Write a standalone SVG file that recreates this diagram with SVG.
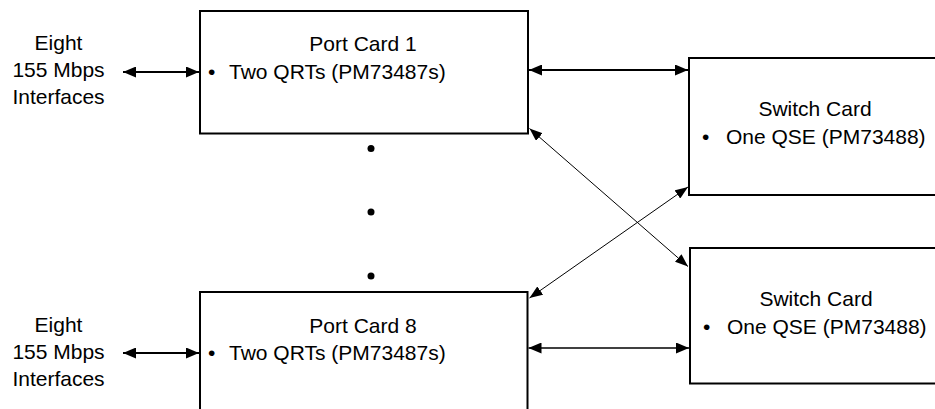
<svg xmlns="http://www.w3.org/2000/svg" width="935" height="409" viewBox="0 0 935 409">
  <defs>
    <marker id="ah" viewBox="0 0 13 11" refX="13" refY="5.5" markerWidth="13" markerHeight="11" markerUnits="userSpaceOnUse" orient="auto-start-reverse">
      <path d="M0,0 L13,5.5 L0,11 z" fill="#000"/>
    </marker>
    <marker id="ahs" viewBox="0 0 13 10" refX="13" refY="5" markerWidth="13" markerHeight="10" markerUnits="userSpaceOnUse" orient="auto-start-reverse">
      <path d="M0,0 L13,5 L0,10 z" fill="#000"/>
    </marker>
  </defs>
  <style>
    text { font-family: "Liberation Sans", Arial, sans-serif; font-size: 21px; fill: #000; }
    .box { fill: #fff; stroke: #000; stroke-width: 2; }
    .c { text-anchor: middle; }
    .conn { stroke: #000; fill: none; }
  </style>
  <rect width="935" height="409" fill="#fff"/>

  <g id="label-top">
    <text class="c" x="58.5" y="50">Eight</text>
    <text class="c" x="58.5" y="77">155 Mbps</text>
    <text class="c" x="58.5" y="104">Interfaces</text>
  </g>
  <g id="label-bottom">
    <text class="c" x="58.5" y="332">Eight</text>
    <text class="c" x="58.5" y="359">155 Mbps</text>
    <text class="c" x="58.5" y="386">Interfaces</text>
  </g>

  <g id="port-card-1">
    <rect class="box" x="200" y="11" width="328" height="122.5"/>
    <text class="c" x="363" y="51">Port Card 1</text>
    <text y="79"><tspan x="208">•</tspan><tspan x="229">Two QRTs (PM73487s)</tspan></text>
  </g>

  <g id="port-card-8">
    <rect class="box" x="200" y="292" width="327.5" height="140"/>
    <text class="c" x="363" y="333">Port Card 8</text>
    <text y="360"><tspan x="208">•</tspan><tspan x="229">Two QRTs (PM73487s)</tspan></text>
  </g>

  <g id="switch-card-1">
    <rect class="box" x="689" y="58" width="253" height="137"/>
    <text class="c" x="815" y="116">Switch Card</text>
    <text y="144"><tspan x="702">•</tspan><tspan x="726">One QSE (PM73488)</tspan></text>
  </g>

  <g id="switch-card-2">
    <rect class="box" x="690" y="248" width="253" height="135.5"/>
    <text class="c" x="816" y="306">Switch Card</text>
    <text y="334"><tspan x="703">•</tspan><tspan x="727">One QSE (PM73488)</tspan></text>
  </g>

  <g id="ellipsis">
    <circle cx="371" cy="148.5" r="3.5"/>
    <circle cx="371" cy="212" r="3.5"/>
    <circle cx="371" cy="276" r="3.5"/>
  </g>

  <g id="connectors">
    <line class="conn" x1="123" y1="72" x2="199" y2="72" stroke-width="2" marker-start="url(#ah)" marker-end="url(#ah)"/>
    <line class="conn" x1="123" y1="353" x2="199" y2="353" stroke-width="2" marker-start="url(#ah)" marker-end="url(#ah)"/>
    <line class="conn" x1="529" y1="70" x2="688" y2="70" stroke-width="2" marker-start="url(#ah)" marker-end="url(#ah)"/>
    <line class="conn" x1="528.5" y1="348" x2="689" y2="348" stroke-width="1.5" marker-start="url(#ah)" marker-end="url(#ah)"/>
    <line class="conn" x1="529.5" y1="128.5" x2="688" y2="266.5" stroke-width="1" marker-start="url(#ahs)" marker-end="url(#ahs)"/>
    <line class="conn" x1="529.5" y1="298" x2="688" y2="187" stroke-width="1" marker-start="url(#ahs)" marker-end="url(#ahs)"/>
  </g>
</svg>
